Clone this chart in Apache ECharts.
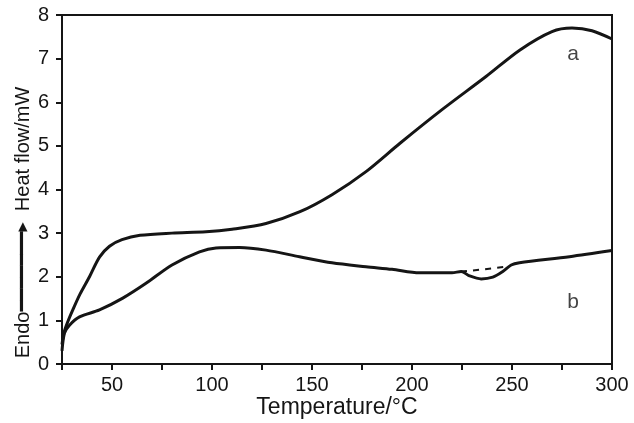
<!DOCTYPE html>
<html>
<head>
<meta charset="utf-8">
<script src="https://cdn.jsdelivr.net/npm/echarts@6/dist/echarts.min.js"></script>
<style>html,body{margin:0;padding:0;background:#fff;}#c{width:634px;height:423px;}</style>
</head>
<body>
<div id="c"></div>
<script>
const tempA = [25, 26, 28, 30.4, 34, 38.75, 43.75, 48.75, 55, 64, 80, 97, 110, 127, 144, 160, 177, 194, 215, 237, 254, 270, 280, 290, 300];
const flowA = [0.45, 0.72, 0.98, 1.24, 1.6, 2.0, 2.45, 2.7, 2.85, 2.95, 3.0, 3.03, 3.09, 3.22, 3.49, 3.88, 4.41, 5.06, 5.83, 6.59, 7.2, 7.62, 7.70, 7.64, 7.45];
const tempB = [25, 26.25, 28.75, 33.75, 43.75, 55.4, 67, 80, 93.75, 102, 113.75, 127, 143.75, 160, 177, 190, 203.75, 220, 224.6, 228.75, 234.6, 240.4, 245.4, 249.6, 253.75, 278.75, 300];
const flowB = [0.3, 0.71, 0.89, 1.08, 1.24, 1.51, 1.85, 2.27, 2.57, 2.66, 2.67, 2.61, 2.46, 2.32, 2.23, 2.17, 2.09, 2.09, 2.12, 2.02, 1.95, 1.99, 2.12, 2.27, 2.32, 2.46, 2.6];
const baseT = [224.6, 236, 247];
const baseV = [2.12, 2.17, 2.23];
const curveNames = ['a', 'b'];
const curveLabelT = [280.6, 280.6];
const curveLabelV = [7.1, 1.42];
const xLabelValues = [50, 100, 150, 200, 250, 300];

const ink = '#151515';
const font = 'Liberation Sans, Arial, sans-serif';
const zip = (xs, ys) => xs.map((x, i) => [x, ys[i]]);

const chart = echarts.init(document.getElementById('c'));
chart.setOption({
  animation: false,
  backgroundColor: '#fff',
  grid: { left: 62, right: 22, top: 15, bottom: 59, outerBoundsMode: 'none', containLabel: false,
    show: true, borderColor: ink, borderWidth: 2, backgroundColor: 'transparent' },
  xAxis: {
    type: 'value', min: 25, max: 300, interval: 25, nameMoveOverlap: false,
    axisLine: { show: true, lineStyle: { color: ink, width: 2 } },
    axisTick: { show: true, inside: false, length: 6, lineStyle: { color: ink, width: 2 } },
    splitLine: { show: false },
    axisLabel: { color: ink, fontSize: 20, fontFamily: font, margin: 11,
      formatter: v => xLabelValues.includes(v) ? String(v) : '' },
    name: 'Temperature/°C', nameLocation: 'middle', nameGap: 32,
    nameTextStyle: { color: ink, fontSize: 23, fontFamily: font }
  },
  yAxis: {
    type: 'value', min: 0, max: 8, interval: 1, nameMoveOverlap: false,
    axisLine: { show: true, lineStyle: { color: ink, width: 2 } },
    axisTick: { show: true, inside: false, length: 6, lineStyle: { color: ink, width: 2 } },
    splitLine: { show: false },
    axisLabel: { color: ink, fontSize: 20, fontFamily: font, margin: 13 },
    name: '{t|Endo}{l|\u2501\u2501\u2501\u2501\u2501\u2501\u2501}{h|\u25B6}  {t|Heat flow/mW}',
    nameLocation: 'middle', nameGap: 29,
    nameTextStyle: { color: ink, fontSize: 20, fontFamily: font, padding: [0, 66, 0, 0],
      rich: { t: { fontSize: 20, fontFamily: font, color: ink }, l: { fontSize: 19, color: ink, fontFamily: 'DejaVu Sans' }, h: { fontSize: 12, color: ink, fontFamily: 'DejaVu Sans' } } }
  },
  series: [
    { type: 'line', data: zip(tempA, flowA), smooth: 0.3, showSymbol: false,
      lineStyle: { color: ink, width: 3 } },
    { type: 'line', data: zip(tempB, flowB), smooth: 0.3, showSymbol: false,
      lineStyle: { color: ink, width: 3 } },
    { type: 'line', data: zip(baseT, baseV), smooth: true, showSymbol: false,
      lineStyle: { color: ink, width: 2, type: [6, 6] } },
    { type: 'scatter', symbolSize: 0,
      data: curveNames.map((n, i) => [curveLabelT[i], curveLabelV[i], n]),
      label: { show: true, position: 'inside', formatter: p => p.data[2], color: ink, fontSize: 21, fontFamily: font } }
  ]
});
</script>
</body>
</html>
